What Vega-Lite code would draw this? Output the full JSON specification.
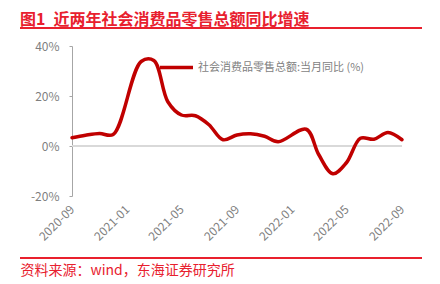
{
  "$schema": "https://vega.github.io/schema/vega-lite/v6.json",
  "autosize": {"type": "none"},
  "width": 330,
  "height": 150,
  "padding": {"left": 72, "top": 46, "right": 38, "bottom": 88},
  "background": "white",
  "config": {
    "view": {"stroke": null},
    "font": "Noto Sans CJK SC"
  },
  "title": {
    "text": "图1\u2002近两年社会消费品零售总额同比增速",
    "anchor": "start",
    "frame": "group",
    "dx": -52,
    "offset": -14,
    "baseline": "alphabetic",
    "fontSize": 16,
    "fontWeight": "bold",
    "color": "#e8202e",
    "font": "Noto Sans CJK SC"
  },
  "data": {
    "values": [
      {"month": "2020-09-01", "yoy": 3.3},
      {"month": "2020-10-01", "yoy": 4.3},
      {"month": "2020-11-01", "yoy": 5.0},
      {"month": "2020-12-01", "yoy": 4.6},
      {"month": "2021-02-01", "yoy": 33.8},
      {"month": "2021-03-01", "yoy": 34.2},
      {"month": "2021-04-01", "yoy": 17.7},
      {"month": "2021-05-01", "yoy": 12.4},
      {"month": "2021-06-01", "yoy": 12.1},
      {"month": "2021-07-01", "yoy": 8.5},
      {"month": "2021-08-01", "yoy": 2.5},
      {"month": "2021-09-01", "yoy": 4.4},
      {"month": "2021-10-01", "yoy": 4.9},
      {"month": "2021-11-01", "yoy": 3.9},
      {"month": "2021-12-01", "yoy": 1.7},
      {"month": "2022-02-01", "yoy": 6.7},
      {"month": "2022-03-01", "yoy": -3.5},
      {"month": "2022-04-01", "yoy": -11.1},
      {"month": "2022-05-01", "yoy": -6.7},
      {"month": "2022-06-01", "yoy": 3.1},
      {"month": "2022-07-01", "yoy": 2.7},
      {"month": "2022-08-01", "yoy": 5.4},
      {"month": "2022-09-01", "yoy": 2.5}
    ]
  },
  "encoding": {
    "x": {
      "field": "month",
      "type": "temporal",
      "scale": {
        "type": "utc",
        "domain": [
          {"year": 2020, "month": 9, "date": 1, "utc": true},
          {"year": 2022, "month": 9, "date": 1, "utc": true}
        ]
      },
      "axis": {
        "title": "资料来源：wind，东海证券研究所",
        "titleColor": "#e8202e",
        "titleFont": "Noto Sans CJK SC",
        "titleFontSize": 14,
        "titleFontWeight": "normal",
        "titleAnchor": "start",
        "titleAlign": "left",
        "titleBaseline": "alphabetic",
        "titleX": -52,
        "titleY": 78,
        "values": [
          {"year": 2020, "month": 9, "date": 1, "utc": true},
          {"year": 2021, "month": 1, "date": 1, "utc": true},
          {"year": 2021, "month": 5, "date": 1, "utc": true},
          {"year": 2021, "month": 9, "date": 1, "utc": true},
          {"year": 2022, "month": 1, "date": 1, "utc": true},
          {"year": 2022, "month": 5, "date": 1, "utc": true},
          {"year": 2022, "month": 9, "date": 1, "utc": true}
        ],
        "labelExpr": "utcFormat(datum.value, '%Y-%m')",
        "labelAngle": -45,
        "labelAlign": "right",
        "labelBaseline": "middle",
        "labelPadding": 11,
        "labelFontSize": 12,
        "labelColor": "#7f7f7f",
        "labelFont": "Noto Sans CJK SC",
        "domain": false,
        "ticks": false,
        "grid": false
      }
    },
    "y": {
      "field": "yoy",
      "type": "quantitative",
      "scale": {"domain": [-20, 40], "nice": false, "zero": false},
      "axis": {
        "title": null,
        "values": [-20, 0, 20, 40],
        "labelExpr": "datum.value + '%'",
        "labelFontSize": 12,
        "labelColor": "#7f7f7f",
        "labelFont": "Noto Sans CJK SC",
        "labelPadding": 10,
        "tickSize": 3,
        "tickColor": "#a6a6a6",
        "domainColor": "#a6a6a6",
        "grid": false
      }
    }
  },
  "layer": [
    {
      "mark": {"type": "rule", "color": "#d9d9d9", "strokeWidth": 1.5},
      "encoding": {"y": {"datum": 0}, "x": null}
    },
    {
      "mark": {"type": "rule", "color": "#e8202e", "strokeWidth": 1.5},
      "encoding": {
        "y": {"datum": 47.2},
        "x": {"datum": {"year": 2020, "month": 5, "date": 9, "utc": true}},
        "x2": {"datum": {"year": 2022, "month": 10, "date": 15, "utc": true}}
      }
    },
    {
      "mark": {"type": "rule", "color": "#e8202e", "strokeWidth": 1.5},
      "encoding": {
        "y": {"datum": -44.8},
        "x": {"datum": {"year": 2020, "month": 5, "date": 9, "utc": true}},
        "x2": {"datum": {"year": 2022, "month": 10, "date": 15, "utc": true}}
      }
    },
    {
      "mark": {"type": "line", "interpolate": "catmull-rom", "strokeWidth": 3.5, "strokeCap": "round", "strokeJoin": "round"},
      "encoding": {
        "color": {
          "datum": "社会消费品零售总额:当月同比 (%)",
          "scale": {"range": ["#c00000"]},
          "legend": {
            "title": null,
            "orient": "none",
            "legendX": 86,
            "legendY": 3,
            "symbolType": "stroke",
            "symbolSize": 1089,
            "symbolStrokeWidth": 3.5,
            "labelFontSize": 11,
            "labelColor": "#7f7f7f",
            "labelFont": "Noto Sans CJK SC",
            "labelOffset": 3,
            "labelLimit": 0
          }
        }
      }
    }
  ]
}
